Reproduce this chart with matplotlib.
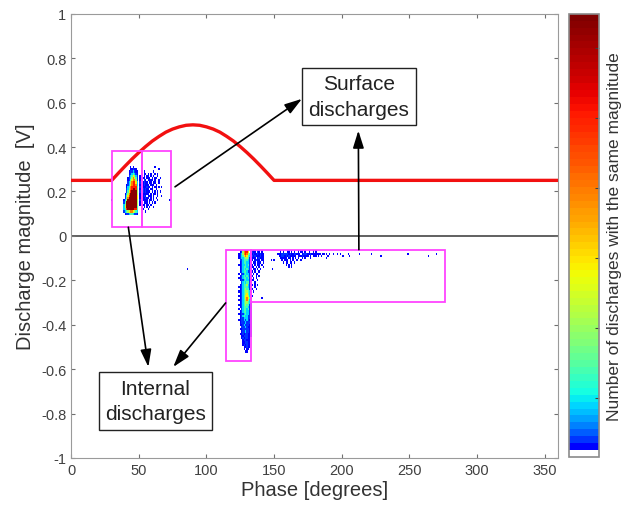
import numpy as np
import matplotlib
matplotlib.use("Agg")
import matplotlib.pyplot as plt
import matplotlib.colors as mcolors
from matplotlib.patches import Rectangle

plt.rcParams['font.family'] = ['Liberation Sans', 'DejaVu Sans']

# supply voltage shown as reference (phase in degrees, scaled volts)
wave_phase = [0, 30, 35, 40, 45, 50, 55, 60, 65, 70, 75, 80, 85, 90, 95, 100,
              105, 110, 115, 120, 125, 130, 135, 140, 145, 150, 360]
wave_mag = [0.25, 0.25, 0.283, 0.315, 0.346, 0.375, 0.402, 0.427, 0.448, 0.467,
            0.481, 0.491, 0.498, 0.5, 0.498, 0.491, 0.481, 0.467, 0.448, 0.427,
            0.402, 0.375, 0.346, 0.315, 0.283, 0.25, 0.25]

# histogram cells: 1 deg x 0.01 V bins, colour level 1..9 (0 = '.')
# approximate number of discharges for each colour level
level_counts = [0, 3.5, 4.5, 9, 14, 21, 29, 40, 51, 63]

# internal discharges, positive half cycle (first column = 38 deg, top row = 0.31 V)
int_pos_rows = [
    "......1.1......",
    "......11211....",
    ".....1223211...",
    ".....1234321...",
    ".....2346532...",
    "....12357642...",
    "....12467752...",
    "....23578863...",
    "...123678873...",
    "...134788884...",
    "...235789984...",
    "...246899995...",
    "..1357999995...",
    "..2468999996...",
    "..2479999996...",
    ".13599999995...",
    ".24999999995...",
    ".35999999995...",
    ".36999999994...",
    ".34899999884...",
    ".23456776543...",
    "..1223443221...",
]
# surface discharges, positive half cycle (first column = 51 deg, top row = 0.31 V)
surf_pos_rows = [
    "...........1........",
    "..............1.....",
    "...1......1.........",
    ".1.11.1.1..1.1......",
    "11.1.11.1.1..1......",
    "1211.111.1.11..1....",
    "12.21.1111.1..1.....",
    "211211.11.11..1.....",
    "1212111.111.1.......",
    "22111211.1.11.1.1...",
    "1121211.11..1.......",
    "21212111.1.1.1.1....",
    "1211111.1.11.1......",
    "12121.111.1..1..1...",
    "1111211.1.1.1.......",
    "2.1111.11.1..1......",
    "11.111.1.1.1........",
    "1.11.11.1...........",
    ".1.1.1.1..1.........",
    "..1...1.............",
    "....1...............",
]
# internal discharges, negative half cycle (first column = 123 deg, top row = -0.07 V)
int_neg_rows = [
    "..1257886..",
    ".1235787541",
    ".1234676431",
    ".1233455421",
    "..223444321",
    "..123443321",
    ".1123343421",
    "..123443321",
    "..123434321",
    "..123443221",
    ".1.22343321",
    "..123434321",
    ".1123443421",
    "..122343321",
    "...23434421",
    "..123445321",
    ".1123444321",
    "..123454421",
    ".1123455431",
    "..123456431",
    ".1123466531",
    "..123467641",
    ".1123457531",
    "..123455431",
    ".1123454421",
    "..123444321",
    ".1.23443421",
    "..123443321",
    ".1122343321",
    "..123433221",
    "..122333221",
    ".1122323211",
    "..122232221",
    "..112322211",
    "...22232111",
    "..112222211",
    "...12232211",
    "..112122111",
    "...11222111",
    "...1212211.",
    "....122111.",
    "....112211.",
    "....121211.",
    ".....11211.",
    ".....1.11..",
    "......11...",
]
# surface discharges, negative half cycle (first column = 133 deg, top row = -0.07 V)
surf_neg_rows = [
    "1211.21.1.............1.1..11.1.1..1.11.1..1..1.1",
    "2121121211..........11122222121122111.12221121111111.11.1.1..1..1",
    "1212111211...........1122121211111.11121111.1.111.1.1....1",
    "1111.12111............11111.11.1.1.1..1.1...1...........1",
    "11.1211.11.....1.1.....1.111.1.1..1..1",
    "1.11.111.1..............1.11.11.1",
    "11.1.11.1.................1.1.1",
    ".11.1.1..1..................1.1",
    "1.11.1.1..",
    "11.1..1...",
    "1.1.11....",
    "11..1.1...",
    "1.1.1.....",
    ".11..1....",
    "1..1......",
    "11.1.1....",
    "1..1......",
    ".1..1.....",
    "1.1.......",
    "1.........",
    ".1........",
    "........1.",
    "1.........",
]
# isolated single discharges (phase deg, magnitude V)
single_phase = [30, 73, 86, 149, 199, 201, 205, 206, 213, 222, 229, 249, 264, 270]
single_mag = [0.16, 0.16, -0.15, -0.15, -0.08, -0.09, -0.08, -0.09, -0.08, -0.08,
              -0.09, -0.08, -0.09, -0.08]

H = np.zeros((201, 361))


def add_block(p0, m0, rows):
    j0 = int(round((m0 + 1) * 100))
    for r, row in enumerate(rows):
        for c, ch in enumerate(row):
            if ch != '.':
                H[j0 - r, p0 + c] = max(H[j0 - r, p0 + c], level_counts[int(ch)])


add_block(38, 0.31, int_pos_rows)
add_block(51, 0.31, surf_pos_rows)
add_block(123, -0.07, int_neg_rows)
add_block(133, -0.07, surf_neg_rows)
for p, m in zip(single_phase, single_mag):
    j = int(round((m + 1) * 100))
    H[j, p] = max(H[j, p], level_counts[1])

counts = np.ma.masked_equal(H, 0)

# jet stretched toward the low end, lowest entry white
jet = plt.get_cmap('jet')(np.sqrt(np.linspace(0, 1, 64)))
jet[0] = [1, 1, 1, 1]
cmap = mcolors.ListedColormap(jet)
norm = mcolors.Normalize(vmin=1.6, vmax=64.9)

fig = plt.figure(figsize=(6.35, 5.1), dpi=100)
ax = fig.add_axes([0.112, 0.1, 0.767, 0.871])
cax = fig.add_axes([0.896, 0.102, 0.047, 0.869])

x_edges = np.arange(-0.5, 361, 1.0)
y_edges = np.linspace(-1.005, 1.005, 202)
mesh = ax.pcolormesh(x_edges, y_edges, counts, cmap=cmap, norm=norm, zorder=2)

ax.axhline(0, color='#606060', lw=1.4, zorder=1)
ax.plot(wave_phase, wave_mag, color='#f21010', lw=2.4, zorder=3)

# boxes around the discharge groups
box_style = dict(fill=False, ec='#ff44ff', lw=1.3, zorder=4)
ax.add_patch(Rectangle((30.5, 0.042), 21.7, 0.339, **box_style))
ax.add_patch(Rectangle((52.2, 0.042), 21.6, 0.339, **box_style))
ax.add_patch(Rectangle((114.2, -0.565), 18.5, 0.503, **box_style))
ax.add_patch(Rectangle((132.7, -0.299), 143.5, 0.237, **box_style))

label_box = dict(boxstyle='square,pad=0.3', fc='white', ec='#222222', lw=1.0)
ax.text(212.7, 0.628, 'Surface\ndischarges', ha='center', va='center',
        fontsize=15, color='#222222', linespacing=1.45, bbox=label_box, zorder=6)
ax.text(62.4, -0.743, 'Internal\ndischarges', ha='center', va='center',
        fontsize=15, color='#222222', linespacing=1.45, bbox=label_box, zorder=6)

arrow = dict(arrowstyle='-|>,head_length=0.7,head_width=0.22', color='black',
             lw=1.2, mutation_scale=15, shrinkA=0, shrinkB=0)
ax.annotate('', xy=(170.6, 0.617), xytext=(76.8, 0.221), arrowprops=arrow, zorder=5)
ax.annotate('', xy=(212.3, 0.474), xytext=(212.7, -0.062), arrowprops=arrow, zorder=5)
ax.annotate('', xy=(57.1, -0.59), xytext=(42.3, 0.039), arrowprops=arrow, zorder=5)
ax.annotate('', xy=(75.5, -0.59), xytext=(114.2, -0.302), arrowprops=arrow, zorder=5)

ax.set_xlim(0, 360)
ax.set_ylim(-1, 1)
ax.set_xticks(np.arange(0, 351, 50))
yt = np.round(np.arange(-1, 1.01, 0.2), 1)
ax.set_yticks(yt)
ax.set_yticklabels([f'{v:g}' if abs(v) > 1e-9 else '0' for v in yt])
ax.tick_params(direction='in', length=3, color='#707070', labelcolor='#404040',
               labelsize=10.5, top=True, right=True)
for s in ax.spines.values():
    s.set_color('#9a9a9a')
    s.set_linewidth(0.8)
ax.set_xlabel('Phase [degrees]', fontsize=14.5, color='#333333', labelpad=2)
ax.set_ylabel('Discharge magnitude  [V]', fontsize=14.5, color='#333333', labelpad=4)

cbar = fig.colorbar(mesh, cax=cax, ticks=[10, 20, 30, 40, 50, 60])
cbar.ax.tick_params(direction='in', length=3, color='#404040', labelright=False)
cbar.outline.set_edgecolor('#8a8a8a')
cbar.outline.set_linewidth(1.2)
cbar.set_label('Number of discharges with the same magnitude', fontsize=12.5,
               color='#333333', labelpad=6)

fig.savefig('out.png', dpi=100)
